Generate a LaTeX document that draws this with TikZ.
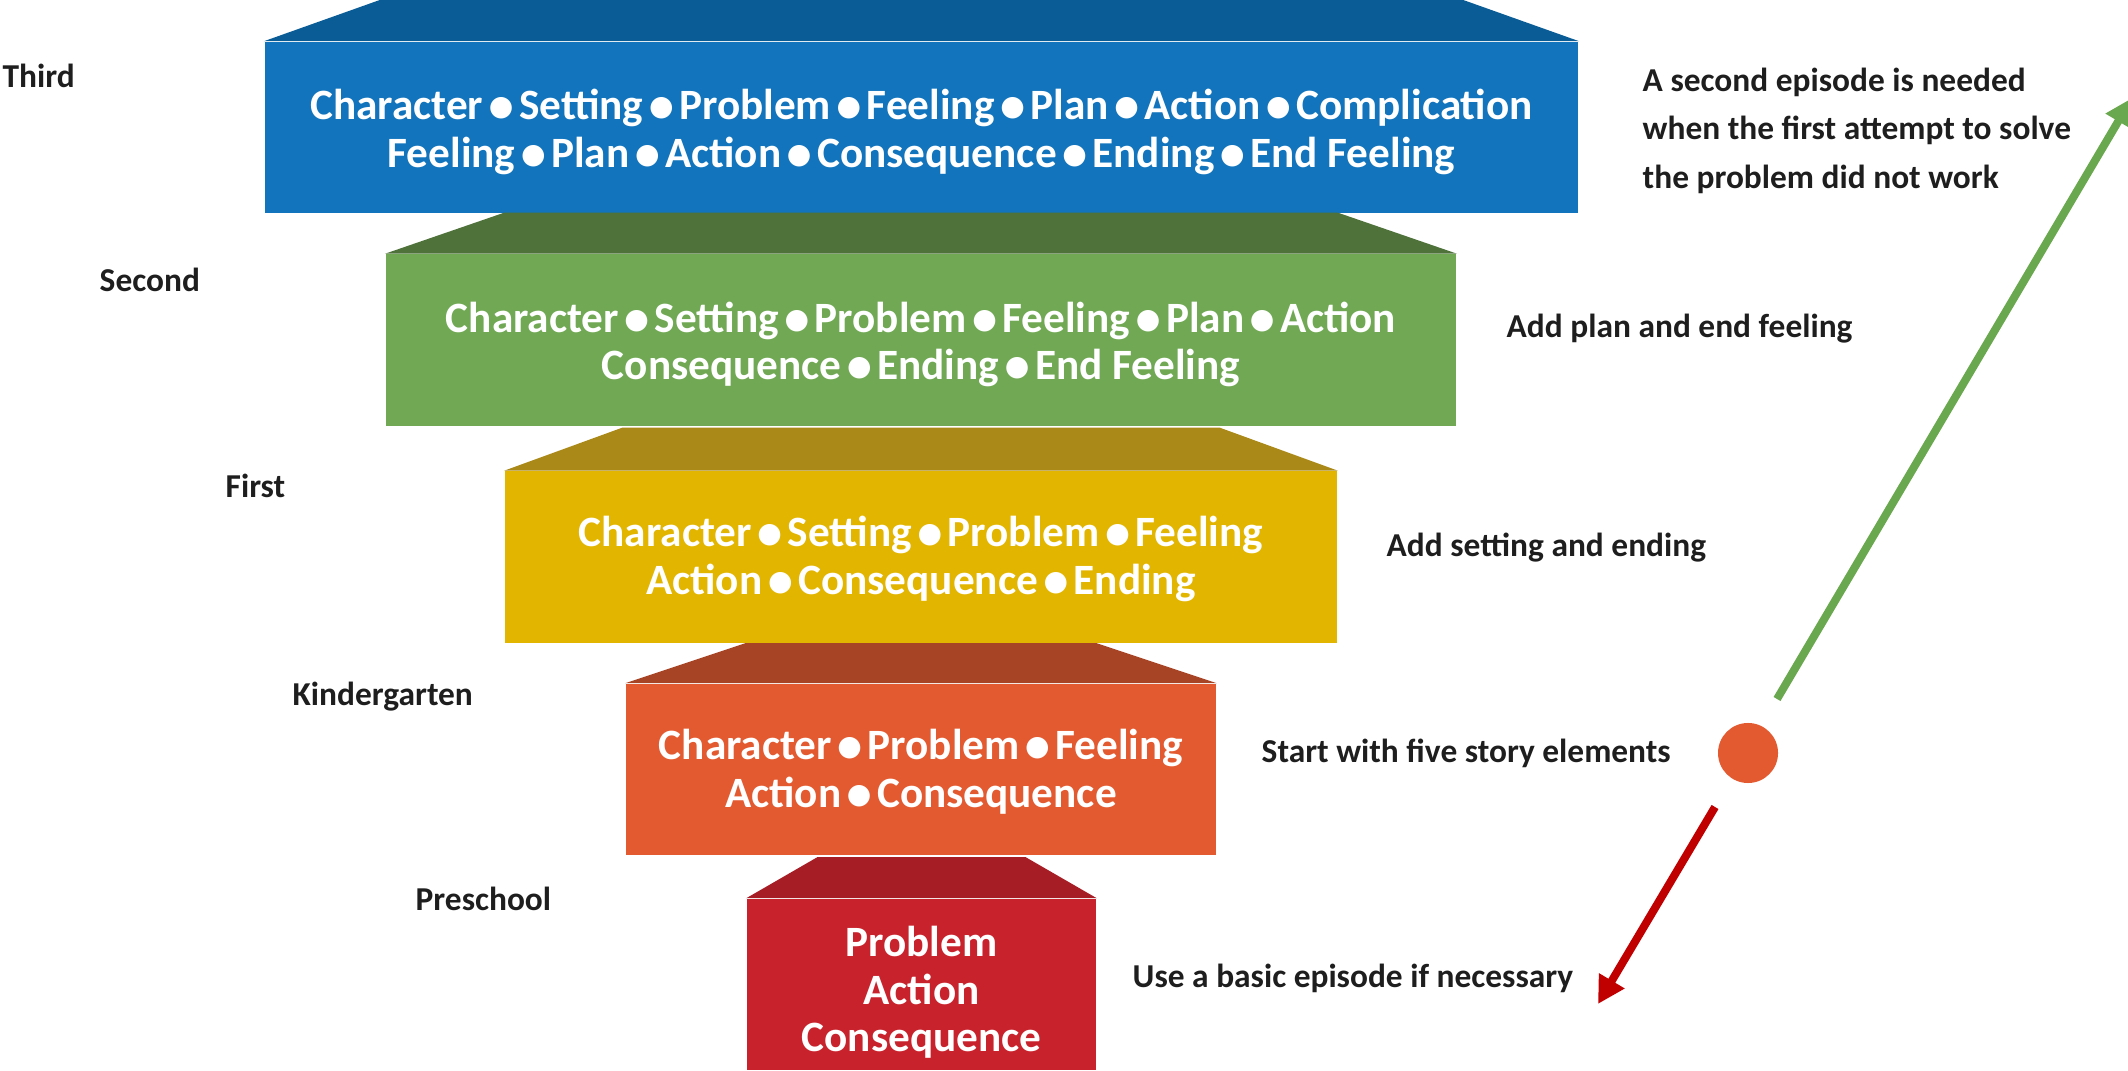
\documentclass[tikz,border=0pt]{standalone}
\usepackage{fontspec}
\usepackage{graphicx}
\setmainfont{Carlito}
\newfontfamily\djv{DejaVu Sans}
\usetikzlibrary{arrows.meta}
\definecolor{blueF}{HTML}{1174BC}
\definecolor{blueT}{HTML}{095C96}
\definecolor{greenF}{HTML}{70A854}
\definecolor{greenT}{HTML}{4E723A}
\definecolor{yellowF}{HTML}{E2B500}
\definecolor{yellowT}{HTML}{AA8918}
\definecolor{orangeF}{HTML}{E35A30}
\definecolor{orangeT}{HTML}{A84426}
\definecolor{redF}{HTML}{C8232D}
\definecolor{redT}{HTML}{A61D26}
\definecolor{arrowG}{HTML}{6AA84F}
\definecolor{arrowR}{HTML}{C00000}
\definecolor{labelC}{HTML}{1E1E1E}
\newcommand\bul{\kern0.13em\raisebox{0.09em}{\djv\fontsize{8pt}{8pt}\selectfont ●}\kern0.13em}
\tikzset{
  frontbox/.style={rectangle, inner sep=0pt, minimum height=1.71cm},
  boxtext/.style={inner sep=0pt, text=white,
    font=\bfseries\fontsize{12.3pt}{13.5pt}\selectfont, align=center},
  levellabel/.style={anchor=base west, inner sep=0pt, text=labelC,
    font=\bfseries\fontsize{9.5pt}{13.8pt}\selectfont},
  notelabel/.style={anchor=base west, inner sep=0pt, text=labelC, align=left,
    font=\bfseries\fontsize{9.5pt}{13.8pt}\selectfont},
  growarrow/.style={line width=0.08cm, -{Triangle[length=0.27cm,width=0.28cm]}},
}
\begin{document}
\begin{tikzpicture}[x=0.01cm,y=-0.01cm]
\useasboundingbox (0,0) rectangle (2128,1071);
\clip (0,0) rectangle (2128,1071);

% Third (blue)
\node[frontbox, fill=blueF, minimum width=13.13cm] (b3) at (921.5,127.5) {};
\fill[blueT] (b3.north west) -- ++(118,-42) -- ([xshift=-1.18cm,yshift=0.42cm]b3.north east) -- (b3.north east) -- cycle;
\node[boxtext] (b3t) at (921.5,132)
  {Character\bul Setting\bul Problem\bul Feeling\bul Plan\bul Action\bul Complication\\
   Feeling\bul Plan\bul Action\bul Consequence\bul Ending\bul End Feeling};

% Second (green)
\node[frontbox, fill=greenF, minimum width=10.70cm] (b2) at (921,340) {};
\fill[greenT] (b2.north west) -- ++(119,-41) -- ([xshift=-1.19cm,yshift=0.41cm]b2.north east) -- (b2.north east) -- cycle;
\node[boxtext] (b2t) at (921,344.5)
  {Character\bul Setting\bul Problem\bul Feeling\bul Plan\bul Action\\
   Consequence\bul Ending\bul End Feeling};

% First (yellow)
\node[frontbox, fill=yellowF, minimum width=8.32cm] (b1) at (921,557) {};
\fill[yellowT] (b1.north west) -- ++(118,-43) -- ([xshift=-1.18cm,yshift=0.43cm]b1.north east) -- (b1.north east) -- cycle;
\node[boxtext] (b1t) at (921,559)
  {Character\bul Setting\bul Problem\bul Feeling\\
   Action\bul Consequence\bul Ending};

% Kindergarten (orange)
\node[frontbox, fill=orangeF, minimum width=5.90cm] (bk) at (921,769.5) {};
\fill[orangeT] (bk.north west) -- ++(120,-40) -- ([xshift=-1.20cm,yshift=0.40cm]bk.north east) -- (bk.north east) -- cycle;
\node[boxtext] (bkt) at (921,771.5)
  {Character\bul Problem\bul Feeling\\
   Action\bul Consequence};

% Preschool (red)
\node[frontbox, fill=redF, minimum width=3.49cm] (bp) at (921.5,984.5) {};
\fill[redT] (bp.north west) -- ++(71,-41) -- ([xshift=-0.71cm,yshift=0.41cm]bp.north east) -- (bp.north east) -- cycle;
\node[boxtext] (bpt) at (921.5,992.5)
  {Problem\\Action\\Consequence};

% grade labels
\node[levellabel] (l3) at (2,88) {Third};
\node[levellabel] (l2) at (99,292) {Second};
\node[levellabel] (l1) at (225,498) {First};
\node[levellabel] (lk) at (292,706) {Kindergarten};
\node[levellabel] (lp) at (415,911) {Preschool};

% notes
\node[notelabel] (n3) at (1642,92) {A second episode is needed};
\node[notelabel] (n3b) at (1642,140) {when the first attempt to solve};
\node[notelabel] (n3c) at (1642,189) {the problem did not work};
\node[notelabel] (n2) at (1506,338) {Add plan and end feeling};
\node[notelabel] (n1) at (1386,557) {Add setting and ending};
\node[notelabel] (nk) at (1261,763) {Start with five story elements};
\node[notelabel] (np) at (1132,988) {Use a basic episode if necessary};

% circle and arrows
\node[circle, fill=orangeF, minimum size=0.60cm, inner sep=0pt] (dot) at (1748,753) {};
\coordinate (gs) at (1777,699);
\coordinate (gt) at (2132,98);
\coordinate (rs) at (1715,807);
\coordinate (rt) at (1598,1004);
\draw[growarrow, arrowG] (gs) -- (gt);
\draw[growarrow, arrowR] (rs) -- (rt);
\end{tikzpicture}
\end{document}
